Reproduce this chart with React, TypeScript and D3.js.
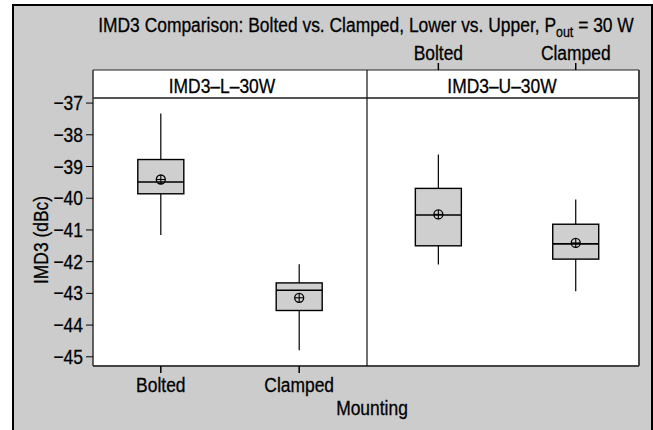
import React from "react";
import * as d3 from "d3";

// ---- data ----
const categories = ["Bolted", "Clamped"];
const panelTitles = ["IMD3–L–30W", "IMD3–U–30W"];
// per panel: [Bolted, Clamped]
const whiskerHigh = [[-37.33, -42.08], [-38.62, -40.04]];
const q3 = [[-38.78, -42.67], [-39.69, -40.82]];
const median = [[-39.49, -42.9], [-40.53, -41.44]];
const meanVals = [[-39.41, -43.14], [-40.51, -41.41]];
const q1 = [[-39.86, -43.54], [-41.5, -41.92]];
const whiskerLow = [[-41.16, -44.79], [-42.09, -42.93]];
const yTicks = [-37, -38, -39, -40, -41, -42, -43, -44, -45];

const W = 653;
const H = 430;
const FONT = "'Liberation Sans', Arial, sans-serif";
const SX = 0.83;
const FS = 21;

function NText({
  x,
  y,
  anchor = "middle",
  size = FS,
  rotate = 0,
  children,
}: {
  x: number;
  y: number;
  anchor?: string;
  size?: number;
  rotate?: number;
  children: React.ReactNode;
}) {
  return (
    <g transform={`translate(${x},${y}) rotate(${rotate}) scale(${SX},1)`}>
      <text
        x={0}
        y={0}
        textAnchor={anchor as any}
        fontSize={size}
        fill="#000"
        stroke="#000"
        strokeWidth={0.3}
        fontFamily={FONT}
      >
        {children}
      </text>
    </g>
  );
}

export default function App() {
  const left = 93;
  const mid = 367;
  const right = 639;
  const top = 98;
  const stripTop = 70;
  const bottom = 366;

  const y = d3.scaleLinear().domain([-45.29, -36.84]).range([bottom, top]);
  const xs = [
    d3.scalePoint<string>().domain(categories).range([left, mid]).padding(0.49).align(0.5),
    d3.scalePoint<string>().domain(categories).range([mid, right]).padding(0.49).align(0.53),
  ];
  const panelRanges = [
    [left, mid],
    [mid, right],
  ];
  const stripOffset = [-8, -1];
  const boxW = 46;
  const fmt = (v: number) => d3.format("d")(v);

  return (
    <svg width={W} height={H} style={{ position: "absolute", left: 0, top: 0 }} fontFamily={FONT}>
      <rect x={0} y={0} width={W} height={H} fill="#ffffff" />
      {/* outer frame */}
      <rect x={13} y={5} width={639} height={440} fill="#cccccc" stroke="#000" strokeWidth={2} />

      {/* title */}
      <NText x={366} y={32}>
        IMD3 Comparison: Bolted vs. Clamped, Lower vs. Upper, P
        <tspan fontSize={15} dy={5}>out</tspan>
        <tspan dy={-5}> = 30 W</tspan>
      </NText>

      {/* panels */}
      {panelRanges.map(([x0, x1], p) => (
        <g key={p}>
          <rect x={x0} y={stripTop} width={x1 - x0} height={top - stripTop} fill="#fff" />
          <rect x={x0} y={top} width={x1 - x0} height={bottom - top} fill="#fff" />
          <NText x={(x0 + x1) / 2 + stripOffset[p]} y={93}>
            {panelTitles[p]}
          </NText>
        </g>
      ))}
      {/* strip frame lines */}
      <line x1={left} x2={right} y1={stripTop} y2={stripTop} stroke="#222" strokeWidth={1.2} />
      <line x1={left} x2={right} y1={top} y2={top} stroke="#555" strokeWidth={2} />
      <line x1={left} x2={right} y1={bottom} y2={bottom} stroke="#444" strokeWidth={2} />
      <line x1={left} x2={left} y1={stripTop} y2={bottom} stroke="#333" strokeWidth={1.5} />
      <line x1={right} x2={right} y1={stripTop} y2={bottom} stroke="#444" strokeWidth={2} />
      <line x1={mid} x2={mid} y1={stripTop} y2={bottom} stroke="#111" strokeWidth={1.2} />

      {/* y axis */}
      {yTicks.map((t) => (
        <g key={t}>
          <line x1={86} x2={left} y1={y(t)} y2={y(t)} stroke="#000" strokeWidth={1} />
          <NText x={83} y={y(t) + 7} anchor="end">
            {fmt(t)}
          </NText>
        </g>
      ))}
      <NText x={48} y={240} rotate={-90}>
        IMD3 (dBc)
      </NText>

      {/* bottom axis (left panel) */}
      {categories.map((c) => (
        <g key={"b" + c}>
          <line x1={xs[0](c)!} x2={xs[0](c)!} y1={bottom} y2={bottom + 7} stroke="#000" strokeWidth={1.5} />
          <NText x={xs[0](c)!} y={392}>
            {c}
          </NText>
        </g>
      ))}
      {/* top axis (right panel) */}
      {categories.map((c) => (
        <g key={"t" + c}>
          <line x1={xs[1](c)!} x2={xs[1](c)!} y1={stripTop - 7} y2={stripTop} stroke="#000" strokeWidth={1.5} />
          <NText x={xs[1](c)!} y={60}>
            {c}
          </NText>
        </g>
      ))}
      <NText x={372} y={415}>
        Mounting
      </NText>

      {/* boxes */}
      {[0, 1].map((p) =>
        categories.map((c, i) => {
          const cx = xs[p](c)!;
          const m = y(meanVals[p][i]);
          return (
            <g key={p + c}>
              <line x1={cx} x2={cx} y1={y(whiskerHigh[p][i])} y2={y(q3[p][i])} stroke="#000" strokeWidth={1.2} />
              <line x1={cx} x2={cx} y1={y(q1[p][i])} y2={y(whiskerLow[p][i])} stroke="#000" strokeWidth={1.2} />
              <rect
                x={cx - boxW / 2}
                y={y(q3[p][i])}
                width={boxW}
                height={y(q1[p][i]) - y(q3[p][i])}
                fill="#cfcfcf"
                stroke="#000"
                strokeWidth={1.4}
              />
              <line x1={cx - boxW / 2} x2={cx + boxW / 2} y1={y(median[p][i])} y2={y(median[p][i])} stroke="#000" strokeWidth={1.6} />
              <circle cx={cx} cy={m} r={4.5} fill="none" stroke="#000" strokeWidth={1.3} />
              <line x1={cx - 4.5} x2={cx + 4.5} y1={m} y2={m} stroke="#000" strokeWidth={1.1} />
              <line x1={cx} x2={cx} y1={m - 4.5} y2={m + 4.5} stroke="#000" strokeWidth={1.1} />
            </g>
          );
        })
      )}
    </svg>
  );
}
